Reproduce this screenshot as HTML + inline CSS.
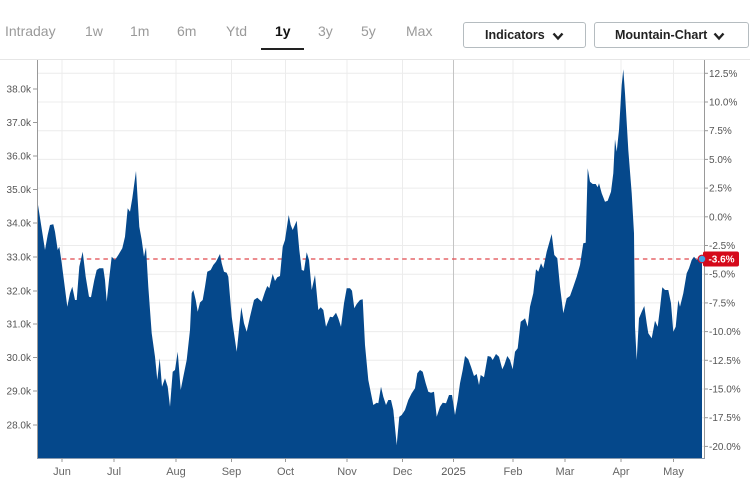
<!DOCTYPE html>
<html><head><meta charset="utf-8"><style>
html,body{margin:0;padding:0;background:#fff;}
body{width:750px;height:500px;overflow:hidden;position:relative;font-family:"Liberation Sans",sans-serif;}
.tab{position:absolute;top:22px;font-size:14px;color:#9a9a9a;line-height:18px;}
.tab.act{color:#111;font-weight:bold;}
.btn{position:absolute;top:22px;height:26px;border:1px solid #b5bcc0;border-radius:3px;box-sizing:border-box;font-size:12.5px;font-weight:bold;color:#222;line-height:25px;}
</style></head><body>
<div class="tab" style="left:5px">Intraday</div>
<div class="tab" style="left:85px">1w</div>
<div class="tab" style="left:130px">1m</div>
<div class="tab" style="left:177px">6m</div>
<div class="tab" style="left:226px">Ytd</div>
<div class="tab act" style="left:275px">1y</div>
<div style="position:absolute;left:261px;top:48px;width:43px;height:2px;background:#222"></div>
<div class="tab" style="left:318px">3y</div>
<div class="tab" style="left:361px">5y</div>
<div class="tab" style="left:406px">Max</div>
<div class="btn" style="left:463px;width:123px;"><span style="position:absolute;left:21px">Indicators</span>
<svg style="position:absolute;left:88px;top:9px" width="12" height="9" viewBox="0 0 12 9"><path d="M1.5 1.5 L6 6.5 L10.5 1.5" fill="none" stroke="#222" stroke-width="2.4"/></svg></div>
<div class="btn" style="left:594px;width:155px;"><span style="position:absolute;left:20px">Mountain-Chart</span>
<svg style="position:absolute;left:118px;top:9px" width="12" height="9" viewBox="0 0 12 9"><path d="M1.5 1.5 L6 6.5 L10.5 1.5" fill="none" stroke="#222" stroke-width="2.4"/></svg></div>

<svg style="position:absolute;left:0;top:0" width="750" height="500" viewBox="0 0 750 500">
<line x1="0" y1="59.5" x2="750" y2="59.5" stroke="#e6e6e6" stroke-width="1"/>
<g stroke="#ececec" stroke-width="1">
<line x1="37" x2="704" y1="73.3" y2="73.3"/><line x1="37" x2="704" y1="102" y2="102"/>
<line x1="37" x2="704" y1="130.7" y2="130.7"/><line x1="37" x2="704" y1="159.4" y2="159.4"/>
<line x1="37" x2="704" y1="188.1" y2="188.1"/><line x1="37" x2="704" y1="216.8" y2="216.8"/>
<line x1="37" x2="704" y1="245.5" y2="245.5"/><line x1="37" x2="704" y1="274.2" y2="274.2"/>
<line x1="37" x2="704" y1="302.9" y2="302.9"/><line x1="37" x2="704" y1="331.6" y2="331.6"/>
<line x1="37" x2="704" y1="360.3" y2="360.3"/><line x1="37" x2="704" y1="389" y2="389"/>
<line x1="37" x2="704" y1="417.7" y2="417.7"/><line x1="37" x2="704" y1="446.4" y2="446.4"/>
<line y1="60" y2="458" x1="62" x2="62"/><line y1="60" y2="458" x1="114" x2="114"/>
<line y1="60" y2="458" x1="176" x2="176"/><line y1="60" y2="458" x1="231.5" x2="231.5"/>
<line y1="60" y2="458" x1="285.5" x2="285.5"/><line y1="60" y2="458" x1="347" x2="347"/>
<line y1="60" y2="458" x1="402.5" x2="402.5"/>
<line y1="60" y2="458" x1="513" x2="513"/><line y1="60" y2="458" x1="565" x2="565"/>
<line y1="60" y2="458" x1="621" x2="621"/><line y1="60" y2="458" x1="673.5" x2="673.5"/>
</g>
<line x1="453.5" x2="453.5" y1="60" y2="458" stroke="#c4c4c4" stroke-width="1"/>
<line x1="37" x2="702" y1="259" y2="259" stroke="#e0474c" stroke-width="1.2" stroke-dasharray="4.5 3.8"/>
<polygon fill="#05488b" points="37,458 37,203 37.7,203 45,250 47.7,235 50,225 53.3,224.3 55,231.7 57.7,250 59.3,246.7 61.7,263 67.3,306.7 70,293.3 72.3,286.7 75,300 76.7,300 79.3,266.7 82.7,251.7 85.7,276.7 89,296.7 91,297.3 94.3,280 96.7,270 99.3,268.3 103.3,268.3 105,280 106.7,301.7 109,280 111.7,256.7 115,260 118.3,255 122.3,248.3 125,236.7 127.7,208.3 130,211.7 132.3,198.3 136,171 137.7,200 139.3,226.7 141.7,240 144,256.7 146,247.3 148.3,286.7 151.7,333.3 155,356.7 157.3,380 159.7,358.3 162,386.7 165,378.3 167.7,386.7 170,406.7 172.7,371.7 175,370 177.7,351.7 180.7,390 183.3,376.7 186.7,360 190,330 191.7,293.3 193.3,290 195.7,300 197.7,311.7 200,302.5 202.7,300 205,286.7 207.3,271.7 210.7,270 213.3,265 216,261.7 220,254 221.7,263.3 224,271.7 226.7,272.7 228.3,276.7 231.7,316.7 234,333.3 236.7,351.7 239.3,326.7 241.3,307.3 244,323.3 246.7,331.7 250,316.7 254,300 257.3,297.7 261.7,301.7 265,291.7 267.3,286 269.3,288.3 272.7,274 275,281 277.3,277.3 280,276 282.7,246.7 285,240 288.7,215 290.7,225 292.7,230 296.7,220.7 299.3,250 301.7,270 304,270.7 306.7,252.3 309,260 311.7,290 315,275 318.3,310 320.7,307.3 323.3,310 326,326.7 330,316.7 332.7,317.3 336,312.7 338.3,318.3 341,326.7 344,303.3 346.7,288.3 350,288.3 352,290.7 354.3,308.3 356.7,304 360,300 362.7,299.3 365,345 368.3,380 373.3,405 376.7,402.7 378.3,403.3 381,386.7 383.3,396.7 386,405 388.3,400 391,400 393.3,410 396.7,445 399.3,416.7 401.7,415 405,410 408.3,400 411.7,393.3 415,388.3 417.3,373.3 420,370 422.7,371.7 425.7,383.3 428.3,391.7 431,392.7 434,391.7 436.7,416.7 440,406.7 442.7,402.7 446,403.3 449,395 452,395 455,415 457.7,400 460,383.3 462.7,370 465,356 468.3,359.3 471,366.7 474,376 476.7,374 479,385 480.7,375 484,377.3 487.7,356 490.7,356.7 492.7,360 496,354 499,356.7 502.3,369.3 504.3,365 507.3,356 510,360 512.7,369.3 515,351.7 517.7,348.3 520.7,321.7 524,319.3 525,318.3 527.7,326.7 530,306.7 533.3,293.3 536,269.3 538.3,271.7 541,263.3 543.3,268.3 546.7,251.7 551.7,234 554.3,255 557.3,258.3 560,286.7 563.3,313.3 566.7,298.3 570,296 573.3,286.7 576.7,276.7 580,265 583.3,243.3 585.7,242.7 587.7,168.3 590,181.7 592.7,184 595.7,184 597.7,187.3 599,183.3 601.7,193.3 605,201.7 607.7,200.7 611,191.7 613.3,173.3 615,139.3 616.7,151.7 619,130 621.7,85 623.3,69.3 625,93.3 628.3,150 631.7,193.3 634,233.3 635,326.7 636.7,360 639,318.3 641.7,311.7 644.3,306 646.7,323.3 648.3,333.3 651.7,338.3 655,320.7 657.7,326.7 660,308.3 662.3,287.3 665,290 668.3,290 671,303.3 673.3,331.7 675.7,326.7 678.3,300 680,306.7 683.3,293.3 686.7,273.3 689,268.3 691.7,260 694,256.7 696.7,260 700,256.7 702,259 702,458"/>
<line x1="37.5" x2="37.5" y1="60" y2="458" stroke="#999" stroke-width="1"/>
<line x1="704.5" x2="704.5" y1="60" y2="458" stroke="#999" stroke-width="1"/>
<line x1="37" x2="705" y1="458.5" y2="458.5" stroke="#8a9bb0" stroke-width="1"/>
<g stroke="#999" stroke-width="1">
<line x1="33" x2="37" y1="89" y2="89"/><line x1="33" x2="37" y1="122.5" y2="122.5"/>
<line x1="33" x2="37" y1="156" y2="156"/><line x1="33" x2="37" y1="189.5" y2="189.5"/>
<line x1="33" x2="37" y1="223" y2="223"/><line x1="33" x2="37" y1="257" y2="257"/>
<line x1="33" x2="37" y1="291" y2="291"/><line x1="33" x2="37" y1="324" y2="324"/>
<line x1="33" x2="37" y1="357.5" y2="357.5"/><line x1="33" x2="37" y1="391" y2="391"/>
<line x1="33" x2="37" y1="425" y2="425"/>
<line x1="704" x2="708" y1="73.3" y2="73.3"/><line x1="704" x2="708" y1="102" y2="102"/>
<line x1="704" x2="708" y1="130.7" y2="130.7"/><line x1="704" x2="708" y1="159.4" y2="159.4"/>
<line x1="704" x2="708" y1="188.1" y2="188.1"/><line x1="704" x2="708" y1="216.8" y2="216.8"/>
<line x1="704" x2="708" y1="245.5" y2="245.5"/><line x1="704" x2="708" y1="274.2" y2="274.2"/>
<line x1="704" x2="708" y1="302.9" y2="302.9"/><line x1="704" x2="708" y1="331.6" y2="331.6"/>
<line x1="704" x2="708" y1="360.3" y2="360.3"/><line x1="704" x2="708" y1="389" y2="389"/>
<line x1="704" x2="708" y1="417.7" y2="417.7"/><line x1="704" x2="708" y1="446.4" y2="446.4"/>
<line y1="458" y2="462" x1="62" x2="62"/><line y1="458" y2="462" x1="114" x2="114"/>
<line y1="458" y2="462" x1="176" x2="176"/><line y1="458" y2="462" x1="231.5" x2="231.5"/>
<line y1="458" y2="462" x1="285.5" x2="285.5"/><line y1="458" y2="462" x1="347" x2="347"/>
<line y1="458" y2="462" x1="402.5" x2="402.5"/><line y1="458" y2="462" x1="453.5" x2="453.5"/>
<line y1="458" y2="462" x1="513" x2="513"/><line y1="458" y2="462" x1="565" x2="565"/>
<line y1="458" y2="462" x1="621" x2="621"/><line y1="458" y2="462" x1="673.5" x2="673.5"/>
</g>
<g font-family="Liberation Sans, sans-serif" font-size="10" fill="#555" text-anchor="end">
<text x="31" y="92.5">38.0k</text><text x="31" y="126">37.0k</text>
<text x="31" y="159.5">36.0k</text><text x="31" y="193">35.0k</text>
<text x="31" y="226.5">34.0k</text><text x="31" y="260.5">33.0k</text>
<text x="31" y="294.5">32.0k</text><text x="31" y="327.5">31.0k</text>
<text x="31" y="361">30.0k</text><text x="31" y="394.5">29.0k</text>
<text x="31" y="428.5">28.0k</text>
</g>
<g font-family="Liberation Sans, sans-serif" font-size="10" fill="#555">
<text x="709" y="76.8">12.5%</text><text x="709" y="105.5">10.0%</text>
<text x="709" y="134.2">7.5%</text><text x="709" y="162.9">5.0%</text>
<text x="709" y="191.6">2.5%</text><text x="709" y="220.3">0.0%</text>
<text x="709" y="249">-2.5%</text><text x="709" y="277.7">-5.0%</text>
<text x="709" y="306.4">-7.5%</text><text x="709" y="335.1">-10.0%</text>
<text x="709" y="363.8">-12.5%</text><text x="709" y="392.5">-15.0%</text>
<text x="709" y="421.2">-17.5%</text><text x="709" y="449.9">-20.0%</text>
</g>
<g font-family="Liberation Sans, sans-serif" font-size="11" fill="#666" text-anchor="middle">
<text x="62" y="475">Jun</text><text x="114" y="475">Jul</text>
<text x="176" y="475">Aug</text><text x="231.5" y="475">Sep</text>
<text x="285.5" y="475">Oct</text><text x="347" y="475">Nov</text>
<text x="402.5" y="475">Dec</text><text x="453.5" y="475" fill="#555">2025</text>
<text x="513" y="475">Feb</text><text x="565" y="475">Mar</text>
<text x="621" y="475">Apr</text><text x="673.5" y="475">May</text>
</g>
<rect x="703" y="251.5" width="36" height="15" rx="2" fill="#d5091a"/>
<text x="721.5" y="262.5" font-family="Liberation Sans, sans-serif" font-size="10" font-weight="bold" fill="#fff" text-anchor="middle">-3.6%</text>
<circle cx="702" cy="259" r="3.8" fill="#3fa3e6" stroke="#c8102e" stroke-width="1.2"/>
</svg>
</body></html>
